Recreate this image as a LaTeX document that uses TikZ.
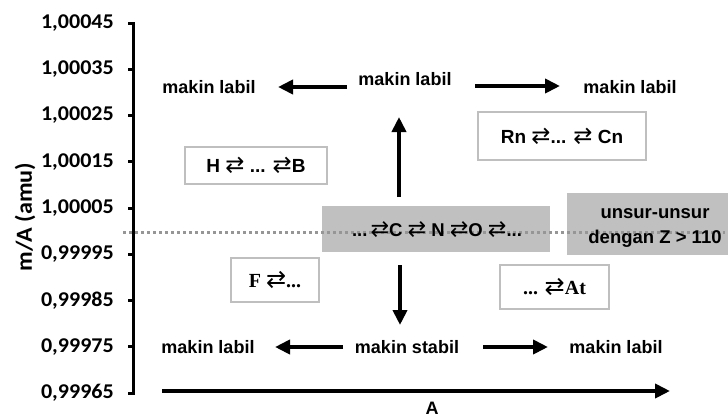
\documentclass[tikz,border=0pt]{standalone}
\usepackage{fontspec}
\setmainfont{Liberation Sans}
\newfontfamily\tickf[FakeStretch=1.05]{Carlito}
\newfontfamily\serf{Liberation Serif}
\newfontfamily\symf[Scale=1.2]{DejaVu Sans}
\usetikzlibrary{arrows.meta}
\pgfdeclarelayer{bg}
\pgfdeclarelayer{mid}
\pgfsetlayers{bg,mid,main}
\definecolor{boxline}{RGB}{191,191,191}
\definecolor{boxfill}{RGB}{192,192,192}
\definecolor{dotcol}{RGB}{150,150,150}
\newcommand\lr{{\symf\mdseries ⇄}}
\begin{document}
\begin{tikzpicture}[x=1pt,y=-1pt,
  lbl/.style={font=\fontsize{18}{22}\selectfont\bfseries, inner sep=0pt},
  ticklbl/.style={font=\fontsize{21}{24}\tickf\bfseries, inner sep=0pt, anchor=east},
  wbox/.style={draw=boxline, line width=1.4pt, fill=white, inner sep=0pt,
    font=\fontsize{19}{22}\selectfont\bfseries},
  arr/.style={line width=4.5pt, -{Triangle[length=15pt,width=14pt]}},
  axisline/.style={line width=3pt},
]
\useasboundingbox (0,0) rectangle (728,418);

% y axis
\draw[axisline] (128,23) -- (133,23) -- (133,393) -- (128,393);
\foreach \i in {1,...,7} {
  \draw[axisline] (128,{23+46.25*\i}) -- (133,{23+46.25*\i});
}
\foreach \v [count=\i from 0] in {1{,}00045,1{,}00035,1{,}00025,1{,}00015,1{,}00005,0{,}99995,0{,}99985,0{,}99975,0{,}99965} {
  \node[ticklbl] (t\i) at (114,{23+46.25*\i}) {\v};
}
\node[lbl, rotate=90, font=\fontsize{23}{26}\tickf\bfseries] (ylab) at (25,217) {m/A (amu)};

% gray boxes
\begin{pgfonlayer}{bg}
  \fill[boxfill] (322,206) rectangle (550,252);
  \fill[boxfill] (567,193) rectangle (728,255);
\end{pgfonlayer}
\coordinate (dl) at (123,232);
\coordinate (dr) at (725,232);
\begin{pgfonlayer}{mid}
  \draw[dotcol, line width=3pt, dash pattern=on 3pt off 3pt] (dl) -- (dr);
\end{pgfonlayer}
\node[lbl, font=\fontsize{18.5}{22}\selectfont\bfseries] (cno) at (437,230) {...\,\lr C \lr\ N \lr O \lr...};
\node[lbl, align=center, font=\fontsize{18.5}{25}\selectfont\bfseries] (z110) at (655,228) {unsur-unsur\\dengan Z > 110};

% white boxes
\node[wbox, minimum width=142pt, minimum height=37pt] (hb) at (256,165.5) {H \lr\ ... \lr B};
\node[wbox, minimum width=168pt, minimum height=48pt] (rn) at (562,136) {Rn \lr ... \lr\ Cn};
\node[wbox, minimum width=88pt, minimum height=44pt, font=\fontsize{20}{22}\serf\bfseries] (fb) at (275,280) {F \lr ...};
\node[wbox, minimum width=109pt, minimum height=44pt, font=\fontsize{20}{22}\serf\bfseries] (at) at (554.5,287) {... \lr At};

% top labels
\node[lbl] (tl) at (209,87) {makin labil};
\node[lbl] (tm) at (405,79) {makin labil};
\node[lbl] (tr) at (630,87) {makin labil};
% bottom labels
\node[lbl] (bl) at (208,347) {makin labil};
\node[lbl] (bm) at (407,347) {makin stabil};
\node[lbl] (br) at (616,347) {makin labil};
\node[lbl] (alab) at (432,408) {A};

% arrow ends
\coordinate (a1s) at (347,87);  \coordinate (a1e) at (278,87);
\coordinate (a2s) at (475,86);  \coordinate (a2e) at (560,86);
\coordinate (a3s) at (399,197); \coordinate (a3e) at (399,117);
\coordinate (a4s) at (400,265); \coordinate (a4e) at (400,325);
\coordinate (a5s) at (343,347); \coordinate (a5e) at (275,347);
\coordinate (a6s) at (483,347); \coordinate (a6e) at (548,347);
\coordinate (ax0) at (162,391); \coordinate (ax1) at (670,391);

\draw[arr] (a1s) -- (a1e);
\draw[arr] (a2s) -- (a2e);
\draw[arr] (a3s) -- (a3e);
\draw[arr] (a4s) -- (a4e);
\draw[arr] (a5s) -- (a5e);
\draw[arr] (a6s) -- (a6e);
\draw[arr] (ax0) -- (ax1);
\end{tikzpicture}
\end{document}
